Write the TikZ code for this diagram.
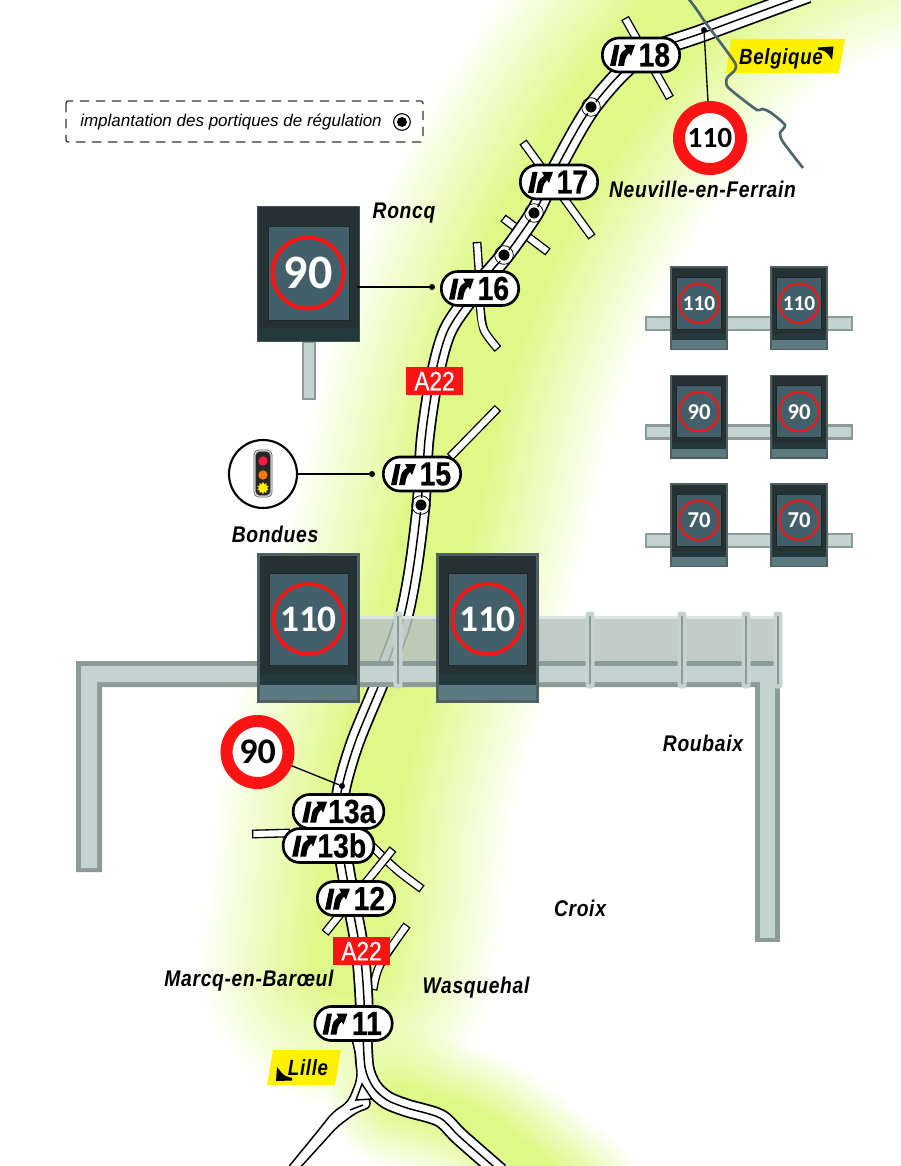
\documentclass[tikz,border=0pt]{standalone}
\usepackage{fontspec}
\usetikzlibrary{shapes.geometric}
\newfontfamily\exitfont[FakeStretch=0.85,FakeBold=0.5]{Liberation Sans}
\newfontfamily\placefont[FakeStretch=0.85,LetterSpace=3]{Liberation Sans}
\newfontfamily\roadfont[FakeStretch=0.85,FakeBold=0.5]{Liberation Sans}
\newfontfamily\legendfont{Liberation Sans}
\newfontfamily\speedfont{Carlito}
\definecolor{glowgreen}{HTML}{DCF981}
\definecolor{framefill}{HTML}{C5D3D0}
\definecolor{frameedge}{HTML}{8B9B98}
\definecolor{planefill}{HTML}{B6C3BF}
\definecolor{signedge}{HTML}{4F6062}
\definecolor{signdark}{HTML}{263133}
\definecolor{signband}{HTML}{24393C}
\definecolor{signlow}{HTML}{5D7A80}
\definecolor{signscreen}{HTML}{43606A}
\definecolor{ringred}{HTML}{FB1414}
\definecolor{border}{HTML}{4D656B}
\tikzset{
	x=0.75pt, y=-0.75pt,
	glowline/.style={draw=glowgreen, line cap=round},
	roadblack/.style={draw=black, line width=14pt},
	roadwhite/.style={draw=white, line width=11.4pt},
	roadmid/.style={draw=black, line width=1.1pt},
	sideblack/.style={draw=black, line width=6.6pt},
	sidewhite/.style={draw=white, line width=4.6pt, shorten >=1pt, shorten <=1pt},
	pill/.style={draw=black, fill=white, line width=2pt, rounded corners=12.5pt, minimum height=25.5pt, inner sep=0pt, font=\exitfont\fontsize{25}{25}\bfseries},
	portique/.style={circle, fill=black, draw=white, line width=1.1pt, minimum size=9.5pt, inner sep=0pt},
	portiquering/.style={circle, draw=black, line width=0.6pt, minimum size=14pt, inner sep=0pt},
	dotend/.style={circle, fill=black, minimum size=4.5pt, inner sep=0pt},
	link/.style={draw=black, line width=1pt},
	speedsign/.style={circle, draw=ringred, fill=white, line width=9pt, minimum size=46.5pt, inner sep=0pt, text=black},
	placelabel/.style={font=\placefont\fontsize{17}{17}\bfseries\itshape, text=black},
	roadlabel/.style={fill=ringred, text=white, minimum width=42.5pt, minimum height=21pt, inner sep=0pt, font=\roadfont\fontsize{20}{20}\selectfont},
	tagtext/.style={font=\placefont\fontsize{16.5}{16.5}\bfseries\itshape, text=black},
	barpart/.style={draw=frameedge, fill=framefill, line width=1.6pt},
}
\def\sideroad#1{
	\draw[sideblack] #1;
	\draw[sidewhite] #1;
}
\def\exitsign#1#2#3#4#5{
	\node[pill, minimum width=#4] (exit#1) at (#2,#3) {\hspace*{20pt}#5};
	\begin{scope}[shift={(#2,#3)}]
		\ifdim #4>60pt \begin{scope}[xshift=-4pt]\fi
		\fill[black] (-26.5,-10) -- (-21.5,-10) -- (-25.5,11) -- (-31,11) -- cycle;
		\fill[black] (-23,11) -- (-21,1) .. controls (-20,-3) and (-17,-5) .. (-15,-6) -- (-17,-10) -- (-6,-10) -- (-10,1) -- (-12,-2) .. controls (-14,0) and (-15,2) .. (-16,5) -- (-17,11) -- cycle;
		\ifdim #4>60pt \end{scope}\fi
	\end{scope}
}
\def\vmsign#1#2#3#4#5#6{
	\begin{scope}[shift={(#2,#3)}, scale=#4]
		\fill[signedge] (0,0) rectangle (103,150);
		\fill[signdark] (3,3) rectangle (100,121);
		\fill[signband] (3,121) rectangle (100,132);
		\fill[signlow] (3,132) rectangle (100,147);
		\draw[fill=signscreen, draw=signdark!80!black, line width=0.6pt] (12,20) rectangle (91,112);
		\draw[draw=ringred, line width=#4*2.7pt] (51.5,66) circle (35);
		\node[text=white, font=\speedfont\fontsize{#6}{#6}\bfseries] (sign#1) at (51.5,66) {#5};
	\end{scope}
}
\def\portiquemark#1#2#3{
	\node[portique] (mark#1) at (#2,#3) {};
	\node[portiquering] (ring#1) at (#2,#3) {};
}
\begin{document}
\begin{tikzpicture}
	%%%%% START %%%%%
	\useasboundingbox (0,0) rectangle (900,1166);
	\clip (0,0) rectangle (900,1166);

	% green band
	\foreach \w in {66,72,...,300} {
		\pgfmathsetmacro\glowop{6/(\w-50)}
		\draw[glowline, opacity=\glowop, line width=\w*0.75pt] plot[smooth] coordinates {(980,-130) (800,-70) (700,0) (610,100) (530,230) (475,370) (445,500) (420,600) (390,700) (365,800) (358,880) (348,960)};
	}
	\foreach \w in {24,28,...,144} {
		\pgfmathsetmacro\glowop{4/(\w-16)}
		\draw[glowline, opacity=\glowop, line width=\w*0.75pt] plot[smooth] coordinates {(400,1098) (480,1125) (570,1195)};
	}

	% side roads
	\sideroad{(625,18) -- (670,98)}
	\sideroad{(523,142) -- (592,237)}
	\sideroad{(503,218) -- (548,252)}
	\sideroad{(477,242) -- (479,272)}
	\sideroad{plot[smooth] coordinates {(480,305) (484,330) (498,349)}}
	\sideroad{(498,408) -- (450,457)}
	\sideroad{(252,834) -- (290,833)}
	\sideroad{plot[smooth] coordinates {(372,846) (397,870) (422,889)}}
	\sideroad{(393,849) -- (325,933)}
	\sideroad{plot[smooth] coordinates {(407,925) (380,965) (373,990)}}

	% motorway
	\def\roadmain{(808,-6) (705,32) (640,57) (592,107) (553,175) (535,212) (505,255) (478,287) (448,330) (434,380) (425,440) (421,506) (413,570) (403,620) (385,670) (356,740) (342,787) (340,815) (344,860) (352,905) (360,950) (364,1000) (364,1040)}
	\def\roadright{(363,1030) (365,1067) (373,1087) (387,1100) (407,1108) (440,1118) (460,1137) (500,1172)}
	\draw[roadblack] plot[smooth] coordinates {\roadmain};
	\draw[roadblack] plot[smooth] coordinates {\roadright};
	\draw[draw=black, fill=white, line width=1.1pt, rounded corners=5pt] (351,1035) -- (357,1060) -- (357,1080) -- (348,1102) -- (333,1112) -- (313,1137) -- (286,1170) -- (298,1170) -- (337,1127) -- (357,1112) -- (372,1107) -- (363,1083) -- (363,1035) -- cycle;
	\draw[roadwhite] plot[smooth] coordinates {\roadmain};
	\draw[roadwhite] plot[smooth] coordinates {\roadright};
	\draw[roadmid] plot[smooth] coordinates {\roadmain};
	\draw[roadmid] plot[smooth] coordinates {\roadright};
	\draw[roadmid] (350,1110) -- (363,1105);
	\draw[draw=black, fill=white, line width=1.1pt] (362,1084) -- (356,1100) -- (372,1099) -- cycle;

	% gantry frame
	\fill[planefill, opacity=0.85] (340,618) rectangle (778,661);
	\fill[framefill!60!white] (340,616) rectangle (778,618.5);
	\fill[frameedge] (76,661) -- (778,661) -- (778,687) -- (760,687) -- (102,687) -- (102,872) -- (76,872) -- cycle;
	\fill[frameedge] (755,682) rectangle (780,942);
	\fill[framefill] (81,666) -- (778,666) -- (778,682) -- (97,682) -- (97,868) -- (81,868) -- cycle;
	\fill[framefill] (760,682) rectangle (775,938);
	\foreach \postx in {398,590,682,746,778} {
		\draw[framefill!90!white, fill=framefill, rounded corners=1.5pt, line width=0.5pt] (\postx-4,612) rectangle (\postx+4,688);
		\draw[frameedge, line width=1.3pt] (\postx,616) -- (\postx,684);
	}

	% small gantries
	\foreach \rowy in {317,425.5,534} {
		\draw[barpart] (646,\rowy) rectangle (852,\rowy+13);
	}
	\vmsign{smalla}{670}{266}{0.5631}{110}{16}
	\vmsign{smallb}{770}{266}{0.5631}{110}{16}
	\vmsign{smallc}{670}{374.5}{0.5631}{90}{17}
	\vmsign{smalld}{770}{374.5}{0.5631}{90}{17}
	\vmsign{smalle}{670}{483}{0.5631}{70}{17}
	\vmsign{smallf}{770}{483}{0.5631}{70}{17}

	% big signs
	\vmsign{biga}{257}{553}{1}{110}{28}
	\vmsign{bigb}{436}{553}{1}{110}{28}

	\draw[barpart] (303,342) rectangle (315,399);
	\fill[signedge!70!signdark] (257,206) rectangle (360,342);
	\fill[signdark] (258,207) rectangle (359,328);
	\fill[signband] (258,328) rectangle (359,341);
	\draw[fill=signscreen, draw=signdark!80!black, line width=0.6pt] (268,226) rectangle (349,320);
	\draw[draw=ringred, line width=3pt] (308,273) circle (35.5);
	\node[text=white, font=\speedfont\fontsize{36}{36}\bfseries] (signroncq) at (308,273) {90};
	\coordinate (roncqedge) at (357,287);

	% exits
	\exitsign{18}{641}{55}{58pt}{18}
	\exitsign{17}{559}{182}{58pt}{17}
	\exitsign{16}{480}{288.5}{58pt}{16}
	\exitsign{15}{422}{474}{58pt}{15}
	\exitsign{13a}{338.5}{811.5}{68pt}{13a}
	\exitsign{13b}{328.5}{845.5}{68pt}{13b}
	\exitsign{12}{356}{898.5}{58pt}{12}
	\exitsign{11}{353.5}{1023.5}{58pt}{11}

	% portiques
	\portiquemark{a}{591}{107}
	\portiquemark{b}{534}{213}
	\portiquemark{c}{504}{255}
	\portiquemark{d}{421}{505}

	% road numbers
	\node[roadlabel] (roada) at (434.5,381) {A22};
	\node[roadlabel] (roadb) at (361.5,951) {A22};

	% speed limits
	\node[dotend] (dottop) at (704,30) {};
	\node[speedsign, font=\speedfont\fontsize{22}{22}\bfseries] (limittop) at (710,138) {110};
	\draw[link] (limittop) -- (dottop);
	\node[dotend] (dotlow) at (342,786) {};
	\node[speedsign, font=\speedfont\fontsize{27}{27}\bfseries] (limitlow) at (257.5,752) {90};
	\draw[link] (limitlow) -- (dotlow);

	\node[dotend] (dotroncq) at (432,287) {};
	\draw[link] (roncqedge) -- (dotroncq);

	% traffic light
	\node[circle, draw=black, fill=white, line width=1.6pt, minimum size=51pt, inner sep=0pt] (feu) at (263,474) {};
	\node[dotend] (dotfeu) at (372,474) {};
	\draw[link] (feu) -- (dotfeu);
	\draw[fill=white, draw=black!70, rounded corners=3.5pt, line width=0.5pt] (254,450) rectangle (272,497);
	\fill[black!85, draw=black!45, rounded corners=3pt, line width=0.5pt] (255.5,451.5) rectangle (270.5,495.5);
	\node[circle, fill=red!80!magenta!90!white, minimum size=7pt, inner sep=0pt] (lampred) at (263,461) {};
	\node[circle, fill=orange!95!red, minimum size=7pt, inner sep=0pt] (lamporange) at (263,475) {};
	\node[star, star points=10, star point ratio=1.5, fill=yellow, minimum size=9pt, inner sep=0pt] (lampyellow) at (263,488) {};

	% tags
	\fill[yellow] (731,39) -- (845,39) -- (839,73) -- (726,73) -- cycle;
	\node[tagtext] (tagbel) at (781,59) {Belgique};
	\fill[black] (818,47.5) -- (833.5,46.5) -- (832,60) -- (828,54) .. controls (826,51) and (823,50) .. (818,50) -- cycle;
	\fill[yellow] (273,1050) -- (341,1050) -- (335,1085) -- (267,1085) -- cycle;
	\node[tagtext] (taglille) at (308,1068) {Lille};
	\fill[black] (277,1067) -- (281,1072) .. controls (283,1075) and (287,1077) .. (292,1078) -- (292,1080.5) -- (276,1081) -- cycle;

	% border
	\draw[border, line width=2pt, line join=round] plot[smooth, tension=0.4] coordinates {(688,-2) (697,10) (705,22) (720,42) (735,63) (735,70) (727,78) (727,86) (737,95) (757,110) (762,109) (770,112) (785,125) (780,133) (783,142) (803,168)};

	% places
	\node[placelabel] (roncq) at (404,213) {Roncq};
	\node[placelabel] (neuville) at (702.5,189) {Neuville-en-Ferrain};
	\node[placelabel] (bondues) at (275,534) {Bondues};
	\node[placelabel] (roubaix) at (703,743) {Roubaix};
	\node[placelabel] (croix) at (580,908) {Croix};
	\node[placelabel] (wasquehal) at (476,988) {Wasquehal};
	\node[placelabel] (marcq) at (249,981) {Marcq-en-Barœul};

	% legend
	\draw[black!80, line width=0.9pt, dash pattern=on 7pt off 5pt, rounded corners=1.5pt] (66,101) rectangle (423,142);
	\node[font=\legendfont\fontsize{12.75}{12.75}\itshape, anchor=west, inner sep=0pt] (legendtext) at (80,122) {implantation des portiques de régulation};
	\node[circle, fill=black, minimum size=7.5pt, inner sep=0pt] (legendmark) at (402,122) {};
	\node[portiquering, line width=0.8pt, minimum size=12.5pt] (legendring) at (402,122) {};
	%%%%% END %%%%%
\end{tikzpicture}
\end{document}
